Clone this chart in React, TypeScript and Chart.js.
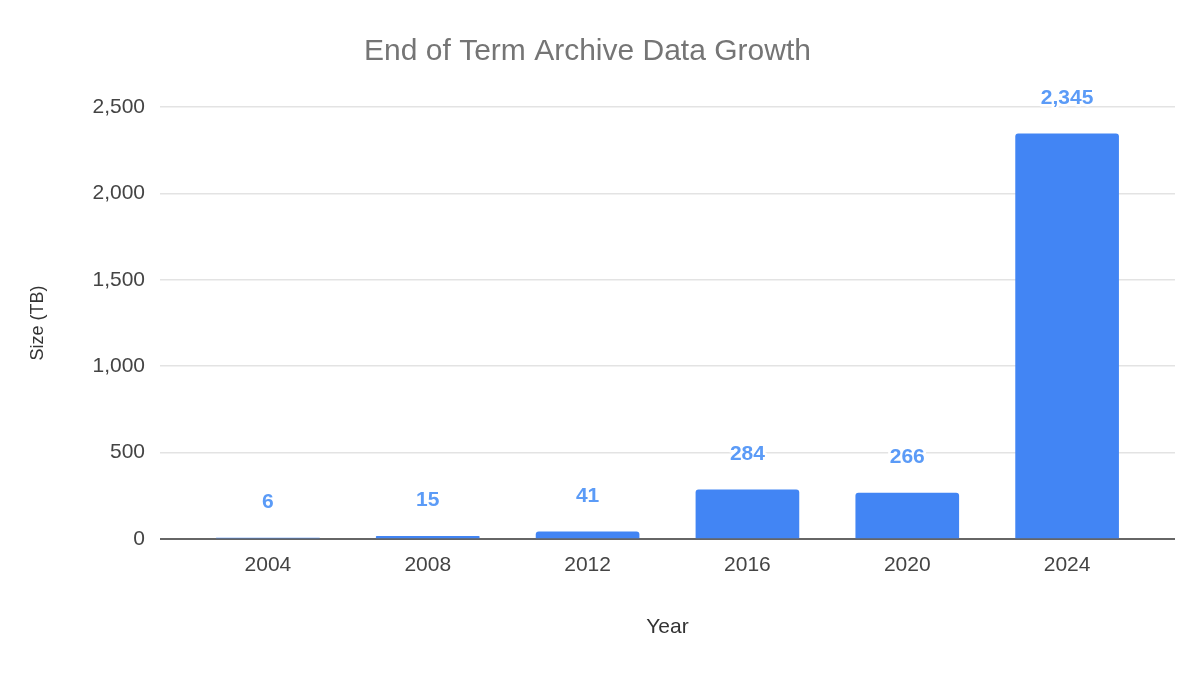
import React, { useEffect, useRef } from "react";
import { Chart, registerables } from "chart.js";

Chart.register(...registerables);

const YEARS = [2004, 2008, 2012, 2016, 2020, 2024];
const SIZES_TB = [6, 15, 41, 284, 266, 2345];
const Y_TICKS = [0, 500, 1000, 1500, 2000, 2500];

const FONT = "'Liberation Sans', Arial, sans-serif";

const labelPlugin = {
  id: "valueLabels",
  afterDatasetsDraw(chart: any) {
    const ctx = chart.ctx;
    const meta = chart.getDatasetMeta(0);
    ctx.save();
    ctx.font = `bold 21px ${FONT}`;
    ctx.textAlign = "center";
    ctx.textBaseline = "middle";
    meta.data.forEach((bar: any, i: number) => {
      const txt = SIZES_TB[i].toLocaleString("en-US");
      const y = bar.y - 36;
      ctx.lineWidth = 5;
      ctx.strokeStyle = "#ffffff";
      ctx.lineJoin = "round";
      ctx.strokeText(txt, bar.x, y);
      ctx.fillStyle = "#5b9bf7";
      ctx.fillText(txt, bar.x, y);
    });
    ctx.restore();
  },
};

export default function App() {
  const ref = useRef<HTMLCanvasElement | null>(null);
  useEffect(() => {
    document.body.style.margin = "0";
    if (!ref.current) return;
    const chart = new Chart(ref.current, {
      type: "bar",
      data: {
        datasets: [
          {
            label: "Size (TB)",
            data: YEARS.map((y, i) => ({ x: y, y: SIZES_TB[i] })),
            backgroundColor: "#4285f4",
            barThickness: 103,
            borderRadius: { topLeft: 3, topRight: 3, bottomLeft: 0, bottomRight: 0 },
            borderSkipped: "bottom",
          } as any,
        ],
      },
      options: {
        animation: false,
        responsive: false,
        maintainAspectRatio: false,
        layout: { padding: { left: 0, right: 25, top: 0, bottom: 0 } },
        plugins: {
          legend: { display: false },
          tooltip: { enabled: false },
          title: {
            display: true,
            text: "End of Term Archive Data Growth",
            color: "#757575",
            font: { family: FONT, size: 30, weight: "normal" as any },
            padding: { top: 34, bottom: 37 },
          },
        },
        scales: {
          x: {
            type: "linear",
            offset: false,
            min: 2001.3,
            max: 2026.7,
            afterBuildTicks(scale: any) {
              scale.ticks = YEARS.map((v) => ({ value: v }));
            },
            afterFit(scale: any) {
              scale.height = 136;
            },
            grid: { display: false, drawTicks: false },
            border: { display: false },
            ticks: {
              autoSkip: false,
              maxRotation: 0,
              padding: 14,
              color: "#444444",
              font: { family: FONT, size: 21 },
              callback: (v: any) => String(v),
            },
            title: {
              display: true,
              text: "Year",
              color: "#333333",
              font: { family: FONT, size: 21 },
              padding: { top: 0, bottom: 35 },
            },
          },
          y: {
            min: 0,
            max: 2500,
            afterBuildTicks(scale: any) {
              scale.ticks = Y_TICKS.map((v) => ({ value: v }));
            },
            afterFit(scale: any) {
              scale.width = 160;
            },
            grid: {
              drawTicks: false,
              color: (c: any) => (c.tick && c.tick.value === 0 ? "#666666" : "#e3e3e3"),
              lineWidth: (c: any) => (c.tick && c.tick.value === 0 ? 2 : 1.5),
            },
            border: { display: false },
            ticks: {
              padding: 15,
              color: "#444444",
              font: { family: FONT, size: 21 },
              callback: (v: any) => Number(v).toLocaleString("en-US"),
            },
            title: {
              display: true,
              text: "Size (TB)",
              color: "#333333",
              font: { family: FONT, size: 18 },
              padding: { top: 27, bottom: 0 },
            },
          },
        },
      } as any,
      plugins: [labelPlugin],
    });
    return () => chart.destroy();
  }, []);
  return (
    <div style={{ position: "absolute", left: 0, top: 0, width: 1200, height: 675, background: "#ffffff" }}>
      <canvas ref={ref} width={1200} height={675} style={{ width: 1200, height: 675 }} />
    </div>
  );
}
